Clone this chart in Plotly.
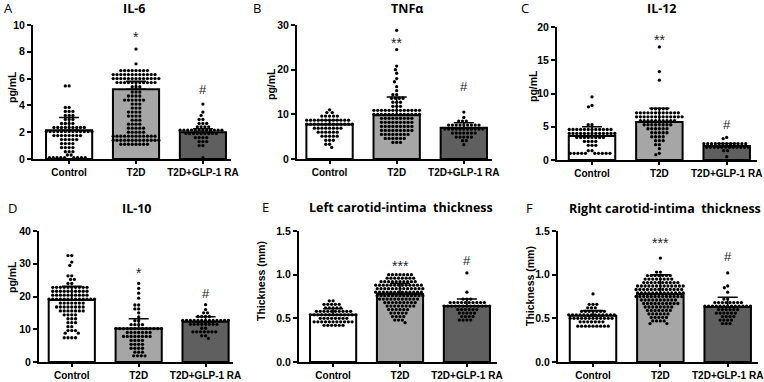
import numpy as np
import plotly.graph_objects as go

# ---------------- data ----------------
groups = ["Control", "T2D", "T2D+GLP-1 RA"]
panel_letters = ["A", "B", "C", "D", "E", "F"]
panel_titles = ["IL-6", "TNFα", "IL-12", "IL-10",
                "Left carotid-intima  thickness", "Right carotid-intima  thickness"]
y_titles = ["pg/mL", "pg/mL", "pg/mL", "pg/mL", "Thickness (mm)", "Thickness (mm)"]
y_max = [10, 30, 20, 40, 1.5, 1.5]
y_dtick = [2, 10, 5, 10, 0.5, 0.5]

# bar heights (means) and upper error (SD)
means = [[2.15, 5.2, 2.0], [7.7, 9.8, 7.0], [3.6, 5.7, 2.1],
         [18.9, 10.2, 12.3], [0.54, 0.78, 0.64], [0.53, 0.78, 0.63]]
sds = [[0.95, 0.6, 0.25], [1.0, 4.1, 1.1], [1.4, 2.1, 0.4],
       [4.2, 3.0, 1.5], [0.07, 0.12, 0.08], [0.06, 0.22, 0.11]]

# significance marks (T2D vs control, GLP vs T2D)
sig_t2d = ["*", "**", "**", "*", "***", "***"]
sig_glp = ["#", "#", "#", "#", "#", "#"]

# individual dots: value levels and number of dots at each level
il6_control_levels = [5.45, 3.85, 3.55, 3.25, 2.95, 2.65, 2.35, 2.05, 1.75, 1.45, 1.15, 0.85, 0.55, 0.3, 0.1]
il6_control_counts = [2, 2, 3, 3, 3, 4, 9, 13, 8, 5, 4, 4, 3, 2, 9]
il6_t2d_levels = [8.2, 7.1, 6.6, 6.3, 6.0, 5.7, 5.4, 5.0, 4.7, 4.4, 4.1, 3.8, 3.5, 3.2, 2.9, 2.6, 2.3, 2.0, 1.7, 1.4, 1.1]
il6_t2d_counts = [1, 1, 8, 12, 13, 11, 3, 3, 4, 6, 3, 3, 4, 4, 3, 4, 5, 5, 12, 13, 8]
il6_glp_levels = [4.1, 3.5, 3.25, 2.95, 2.65, 2.4, 2.15, 1.9, 1.6, 1.3, 1.0, 0.1]
il6_glp_counts = [1, 1, 1, 2, 3, 4, 12, 9, 4, 3, 2, 1]

tnf_control_levels = [11.0, 10.4, 9.6, 8.7, 7.8, 6.9, 6.0, 5.1, 4.2, 3.3, 2.6]
tnf_control_counts = [1, 2, 5, 12, 13, 8, 6, 5, 3, 2, 1]
tnf_t2d_levels = [28.8, 24.5, 20.8, 20.0, 19.2, 18.0, 17.3, 16.2, 15.3, 14.4, 13.6, 12.7, 11.8, 10.9, 10.0, 9.1, 8.2, 7.3, 6.4, 5.5, 4.6, 3.7]
tnf_t2d_counts = [1, 1, 1, 1, 1, 1, 1, 1, 1, 2, 4, 3, 3, 13, 13, 9, 9, 9, 9, 8, 6, 3]
tnf_glp_levels = [10.5, 9.3, 8.5, 7.6, 6.7, 5.8, 4.9, 4.1, 3.2]
tnf_glp_counts = [1, 1, 3, 9, 11, 7, 5, 2, 1]

il12_control_levels = [9.5, 8.2, 8.0, 5.3, 4.6, 4.0, 3.4, 2.8, 2.2, 1.4, 1.0]
il12_control_counts = [1, 1, 1, 2, 12, 13, 8, 4, 3, 2, 10]
il12_t2d_levels = [17.0, 13.3, 12.0, 7.7, 7.1, 6.5, 5.9, 5.3, 4.7, 4.1, 3.5, 2.9, 2.3, 1.7, 1.0, 0.8]
il12_t2d_counts = [1, 1, 1, 5, 12, 13, 10, 8, 6, 5, 4, 3, 2, 1, 1, 1]
il12_glp_levels = [3.4, 3.2, 2.45, 1.9, 1.4, 0.5]
il12_glp_counts = [1, 1, 12, 12, 2, 1]

il10_control_levels = [32.5, 30.5, 29.5, 26.3, 25.2, 24.0, 22.8, 21.6, 20.4, 19.2, 18.0, 16.8, 15.6, 14.4, 13.2, 12.0, 10.8, 9.6, 8.8, 7.4]
il10_control_counts = [2, 1, 1, 2, 2, 2, 10, 10, 10, 13, 7, 8, 7, 4, 3, 3, 2, 3, 2, 4]
il10_t2d_levels = [24.0, 22.5, 21.0, 19.5, 17.4, 16.2, 15.0, 13.8, 12.6, 11.4, 10.2, 9.0, 7.8, 6.6, 5.4, 4.2, 3.0, 1.9]
il10_t2d_counts = [1, 1, 1, 1, 2, 2, 1, 1, 2, 4, 13, 7, 8, 4, 4, 4, 3, 4]
il10_glp_levels = [17.5, 16.0, 15.0, 13.9, 12.7, 11.5, 10.3, 9.2, 8.0, 7.2]
il10_glp_counts = [1, 1, 2, 4, 13, 8, 2, 7, 2, 1]

left_control_levels = [0.70, 0.66, 0.62, 0.58, 0.54, 0.50, 0.46, 0.42]
left_control_counts = [2, 5, 5, 10, 13, 8, 11, 6]
left_t2d_levels = [1.00, 0.96, 0.92, 0.88, 0.84, 0.80, 0.76, 0.72, 0.68, 0.64, 0.60, 0.56, 0.52, 0.48, 0.45]
left_t2d_counts = [7, 8, 10, 13, 13, 13, 13, 11, 9, 8, 6, 5, 4, 3, 1]
left_glp_levels = [1.02, 0.80, 0.72, 0.68, 0.64, 0.60, 0.56, 0.52, 0.48]
left_glp_counts = [1, 1, 3, 10, 13, 6, 5, 4, 4]

right_control_levels = [0.78, 0.66, 0.62, 0.58, 0.54, 0.50, 0.46, 0.41]
right_control_counts = [1, 3, 3, 7, 13, 12, 7, 9]
right_t2d_levels = [1.19, 1.03, 0.99, 0.95, 0.91, 0.87, 0.83, 0.79, 0.75, 0.71, 0.67, 0.63, 0.59, 0.55, 0.51, 0.47, 0.44]
right_t2d_counts = [1, 2, 7, 8, 10, 13, 13, 13, 13, 10, 10, 8, 7, 6, 5, 4, 2]
right_glp_levels = [1.02, 0.87, 0.85, 0.80, 0.72, 0.68, 0.64, 0.60, 0.56, 0.52, 0.48, 0.44]
right_glp_counts = [1, 1, 1, 1, 2, 8, 13, 6, 6, 4, 4, 3]

dots = [
    [(il6_control_levels, il6_control_counts), (il6_t2d_levels, il6_t2d_counts), (il6_glp_levels, il6_glp_counts)],
    [(tnf_control_levels, tnf_control_counts), (tnf_t2d_levels, tnf_t2d_counts), (tnf_glp_levels, tnf_glp_counts)],
    [(il12_control_levels, il12_control_counts), (il12_t2d_levels, il12_t2d_counts), (il12_glp_levels, il12_glp_counts)],
    [(il10_control_levels, il10_control_counts), (il10_t2d_levels, il10_t2d_counts), (il10_glp_levels, il10_glp_counts)],
    [(left_control_levels, left_control_counts), (left_t2d_levels, left_t2d_counts), (left_glp_levels, left_glp_counts)],
    [(right_control_levels, right_control_counts), (right_t2d_levels, right_t2d_counts), (right_glp_levels, right_glp_counts)],
]

# ---------------- layout geometry (pixels on a 764x382 canvas) ----------------
W, H = 764, 382
panels = [
    dict(x0=33, x1=231, yt=25, yb=159, xr=[-0.54, 2.42], sig=[9.3, 5.2], yt_pos=(12, 87)),
    dict(x0=297, x1=492, yt=25, yb=159, xr=[-0.485, 2.42], sig=[26.6, 16.3], yt_pos=(271, 84)),
    dict(x0=557, x1=757, yt=27, yb=160, xr=[-0.52, 2.45], sig=[18.5, 5.4], yt_pos=(533, 86)),
    dict(x0=39, x1=233, yt=231, yb=362, xr=[-0.49, 2.41], sig=[28.0, 21.0], yt_pos=(12, 277)),
    dict(x0=299, x1=497, yt=231, yb=362, xr=[-0.51, 2.45], sig=[1.13, 1.16], yt_pos=(261, 281)),
    dict(x0=558, x1=758, yt=231, yb=362, xr=[-0.52, 2.45], sig=[1.40, 1.21], yt_pos=(530, 286)),
]
title_pos = [(134, 8), (407, 8), (662, 8), (137, 208), (401, 207), (665, 208)]
letter_pos = [(8, 8), (257, 8), (525, 8), (12, 208), (265, 207), (529, 208)]
bar_colors = ["#ffffff", "#a6a6a6", "#5f5f5f"]
DOT_D = 3.8       # swarm spacing in px
BAR_W = 0.69

FONT = "Liberation Sans, Arial, sans-serif"
TFONT = "Open Sans, Noto Sans, sans-serif"


def swarm(vals, ppu_y, d):
    ys = np.asarray(vals, dtype=float) * ppu_y
    order = np.argsort(-ys, kind="stable")
    xs = np.zeros(len(ys))
    px, py = [], []
    for i in order:
        y = ys[i]
        ivs = []
        for a, b in zip(px, py):
            dy = abs(b - y)
            if dy < d:
                w = np.sqrt(d * d - dy * dy)
                ivs.append((a - w, a + w))
        cands = [0.0] + [lo for lo, hi in ivs] + [hi for lo, hi in ivs]
        cands.sort(key=lambda c: (round(abs(c), 6), c))
        x = 0.0
        for c in cands:
            if all(not (lo + 1e-6 < c < hi - 1e-6) for lo, hi in ivs):
                x = c
                break
        xs[i] = x
        px.append(x)
        py.append(y)
    return xs


fig = go.Figure()
annotations = []


def ann(x, y, text, font, xref="paper", yref="paper", **kw):
    if xref == "paper":
        x = x / W
    if yref == "paper":
        y = 1 - y / H
    d = dict(x=x, y=y, xref=xref, yref=yref, text=text, showarrow=False,
             xanchor="center", yanchor="middle", font=font)
    d.update(kw)
    annotations.append(d)


for k, p in enumerate(panels):
    sfx = "" if k == 0 else str(k + 1)
    xa, ya = "x" + sfx, "y" + sfx
    ppu_y = (p["yb"] - p["yt"]) / y_max[k]
    ppu_x = (p["x1"] - p["x0"]) / (p["xr"][1] - p["xr"][0])

    fig.add_trace(go.Bar(
        x=[0, 1, 2], y=means[k], width=BAR_W, xaxis=xa, yaxis=ya,
        marker=dict(color=bar_colors, line=dict(color="black", width=2)),
        showlegend=False, hoverinfo="skip"))

    for g in range(3):
        levels, counts = dots[k][g]
        vals = np.repeat(np.asarray(levels, dtype=float), counts)
        offs = swarm(vals, ppu_y, DOT_D) / ppu_x
        fig.add_trace(go.Scatter(
            x=g + offs, y=vals, mode="markers", xaxis=xa, yaxis=ya,
            marker=dict(size=3.3, color="black", line=dict(width=0)),
            showlegend=False, hoverinfo="skip", cliponaxis=False))

    fig.add_trace(go.Scatter(
        x=[0, 1, 2], y=means[k], mode="markers", xaxis=xa, yaxis=ya,
        marker=dict(size=1, color="rgba(0,0,0,0)"),
        error_y=dict(type="data", symmetric=False, array=sds[k], arrayminus=[0, 0, 0],
                     color="black", thickness=1.5, width=10),
        showlegend=False, hoverinfo="skip"))

    fig.layout["xaxis" + sfx] = dict(
        domain=[p["x0"] / W, p["x1"] / W], range=p["xr"], anchor=ya, automargin=False,
        ticklabeloverflow="allow",
        tickvals=[0, 1, 2], ticktext=groups, ticks="outside", ticklen=3, tickwidth=1.5,
        tickcolor="black", showline=True, linecolor="black", linewidth=2,
        showgrid=False, zeroline=False, fixedrange=True,
        tickfont=dict(family=FONT, size=10, color="black", weight="bold"))
    fig.layout["yaxis" + sfx] = dict(
        domain=[1 - p["yb"] / H, 1 - p["yt"] / H], range=[0, y_max[k]], anchor=xa,
        automargin=False, ticklabeloverflow="allow",
        dtick=y_dtick[k], tick0=0, ticks="outside", ticklen=4, tickwidth=1.5,
        tickcolor="black", showline=True, linecolor="black", linewidth=2,
        showgrid=False, zeroline=False, fixedrange=True,
        tickformat=".1f" if y_max[k] < 2 else "d",
        tickfont=dict(family=FONT, size=10.5, color="black", weight="bold"))

    tx, ty = p["yt_pos"]
    ann(tx, ty, y_titles[k], dict(family=FONT, size=10.5, color="black", weight="bold"),
        textangle=-90)
    tx, ty = title_pos[k]
    ann(tx, ty, panel_titles[k], dict(family=TFONT, size=12.5, color="black", weight="bold"))
    tx, ty = letter_pos[k]
    ann(tx, ty, panel_letters[k], dict(family=TFONT, size=13, color="black"))
    ann(1, p["sig"][0], sig_t2d[k], dict(family=FONT, size=14, color="#222222"),
        xref=xa, yref=ya, yshift=-3)
    ann(2, p["sig"][1], sig_glp[k], dict(family=FONT, size=13, color="#222222"),
        xref=xa, yref=ya)

fig.update_layout(
    template="none",
    width=W, height=H, margin=dict(l=0, r=0, t=0, b=0, autoexpand=False),
    paper_bgcolor="white", plot_bgcolor="white",
    barmode="overlay", annotations=annotations,
    font=dict(family=FONT, color="black"))

fig.write_html("out.html", config={"displayModeBar": False},
               post_script="document.body.style.margin='0px';")
